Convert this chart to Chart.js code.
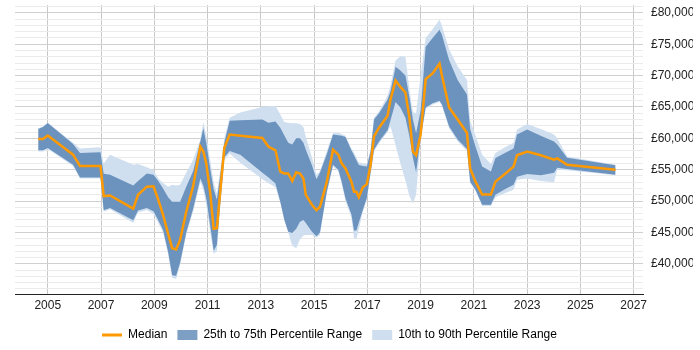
<!DOCTYPE html>
<html>
<head>
<meta charset="utf-8">
<script src="https://cdn.jsdelivr.net/npm/chart.js@4.4.1/dist/chart.umd.min.js"></script>
<style>
  html, body { margin: 0; padding: 0; background: #fff; }
  #wrap { width: 700px; height: 350px; }
</style>
</head>
<body>
<div id="wrap"><canvas id="chart" width="700" height="350"></canvas></div>
<script>
// Даты (доли года) и перцентили зарплат
const years = [
  2004.64, 2004.82, 2005.00, 2005.95, 2006.21, 2006.98, 2007.10, 2007.34, 2008.21, 2008.39,
  2008.72, 2008.97, 2009.15, 2009.33, 2009.52, 2009.67, 2009.82, 2009.97, 2010.20, 2010.46,
  2010.73, 2010.84, 2010.95, 2011.10, 2011.23, 2011.35, 2011.48, 2011.63, 2011.83, 2012.23,
  2013.06, 2013.28, 2013.55, 2013.73, 2013.88, 2014.03, 2014.18, 2014.33, 2014.47, 2014.60,
  2014.69, 2014.92, 2015.09, 2015.22, 2015.48, 2015.71, 2015.91, 2016.03, 2016.18, 2016.40,
  2016.50, 2016.59, 2016.68, 2016.83, 2016.98, 2017.12, 2017.25, 2017.44, 2017.76, 2017.87,
  2018.06, 2018.24, 2018.43, 2018.58, 2018.71, 2018.83, 2019.00, 2019.19, 2019.45, 2019.71,
  2019.80, 2020.07, 2020.39, 2020.74, 2020.86, 2021.06, 2021.31, 2021.64, 2021.81, 2022.13,
  2022.49, 2022.62, 2023.00, 2023.51, 2024.01, 2024.13, 2024.50, 2026.32
];

const median = [
  59900, 59900, 60450, 57400, 55600, 55600, 50800, 50900, 48800, 51000,
  52300, 52350, 50200, 47800, 44800, 42500, 42300, 43850, 48300, 52400,
  58700, 57900, 56050, 51300, 45600, 45700, 51700, 58500, 60600, 60400,
  60050, 58700, 58100, 54700, 54400, 54400, 53200, 54600, 54400, 53600,
  51000, 49400, 48550, 49100, 53100, 58200, 57400, 56050, 55200, 53100,
  51500, 51500, 50600, 52200, 52700, 55800, 60300, 61700, 63600, 66200,
  69200, 68200, 67300, 63300, 57900, 57300, 60600, 69450, 70350, 71900,
  70000, 64900, 63000, 60900, 55200, 53100, 51050, 51050, 53100, 54200,
  55500, 57300, 57900, 57300, 56600, 56800, 55800, 55000
];

const p75 = [
  61500, 61800, 62450, 59100, 57650, 57800, 54350, 54200, 52500, 53200,
  54400, 54200, 53200, 52000, 50600, 49900, 49900, 49900, 52300, 54800,
  59500, 61600, 59300, 55200, 51900, 50200, 54200, 59300, 62800, 62900,
  63000, 62500, 62700, 61700, 60500, 59300, 59000, 60000, 60000, 59300,
  58200, 55700, 53500, 54500, 57500, 60600, 60500, 60400, 60200, 58100,
  57300, 56500, 55750, 55600, 55500, 57900, 63000, 64000, 66200, 67500,
  71400, 70800, 70000, 66600, 63000, 60800, 64400, 74600, 76000, 77300,
  76500, 72500, 69300, 67000, 61500, 58700, 55500, 54700, 56850, 57600,
  58400, 60600, 61400, 60400, 59500, 59000, 56900, 55700
];

const p25 = [
  58100, 58100, 58450, 55800, 53750, 53750, 48550, 48900, 46950, 48500,
  48900, 48400, 46950, 45400, 41900, 38200, 38100, 40200, 45000, 48800,
  53600, 52500, 50500, 46100, 42100, 43000, 49900, 57000, 58000, 57400,
  54500, 53800, 52800, 49900, 47000, 45100, 44900, 45600, 46700, 47000,
  46500, 45100, 44400, 45000, 51500, 55800, 55000, 53200, 50400, 47900,
  45300, 45300, 46600, 48600, 50500, 54500, 58200, 59500, 61300, 62900,
  65800, 64900, 63300, 60300, 56900, 54600, 60000, 64900, 65600, 66000,
  65400, 61900, 59800, 58300, 53100, 51800, 49400, 49400, 51000, 51800,
  52600, 53900, 54300, 54100, 54500, 55300, 55100, 54200
];

const p90 = [
  61600, 61900, 62500, 59300, 58400, 58600, 56000, 57400, 55800, 55900,
  55400, 54900, 53600, 52900, 52300, 52600, 52500, 52600, 54500, 56600,
  59800, 62600, 60500, 56500, 53000, 51200, 55000, 60000, 63300, 64100,
  65000, 65100, 65200, 63800, 62600, 62500, 62400, 62400, 62300, 61800,
  60200, 57000, 54200, 54800, 58000, 60800, 60900, 60700, 60400, 58400,
  57700, 56900, 56200, 56000, 55900, 58200, 63300, 64300, 66800, 68500,
  72400, 73100, 73000, 67800, 64200, 64000, 70000, 76000, 77400, 78900,
  78000, 74200, 71500, 69300, 62800, 60500, 57400, 55900, 57650, 58500,
  59300, 61400, 62300, 61500, 60600, 60000, 57100, 55800
];

const p10 = [
  57900, 57900, 58300, 55600, 53600, 53600, 48300, 48700, 46500, 48200,
  48600, 48000, 46500, 45000, 41500, 37800, 37600, 39800, 44600, 48400,
  53000, 51800, 49500, 45000, 41600, 42000, 49200, 56500, 57600, 56100,
  53500, 52900, 52200, 49800, 47300, 45000, 42900, 42500, 43900, 44500,
  44600, 44600, 44200, 44600, 51400, 55500, 54700, 52800, 50000, 47400,
  44100, 44000, 45500, 48300, 50200, 54200, 57900, 59200, 61000, 61900,
  58900, 56000, 53300, 50800, 49600, 51000, 59800, 64700, 65400, 65800,
  65200, 61600, 59500, 58000, 52900, 51600, 49200, 49200, 50600, 51200,
  51800, 53400, 53600, 53200, 53000, 55000, 54900, 54100
];

// Подписи осей
const xTicks = [2005, 2007, 2009, 2011, 2013, 2015, 2017, 2019, 2021, 2023, 2025, 2027];
const yLabels = [40000, 45000, 50000, 55000, 60000, 65000, 70000, 75000, 80000];

const FONT = 'Arial, "Liberation Sans", sans-serif';
const ORANGE = '#ff9900';
const DARK = 'rgba(47, 100, 160, 0.62)';
const LIGHT = '#cfdff0';

function toPoints(values) {
    return values.map((v, i) => ({ x: years[i], y: v }));
}

// Легенда по центру области графика, чуть ниже
const legendShift = {
    id: 'legendShift',
    afterLayout(chart) {
        const lg = chart.legend;
        if (!lg) return;
        lg.left = chart.chartArea.left;
        lg.right = chart.chartArea.right + 1;
        lg.top += 2;
        lg.bottom += 2;
    }
};

const ctx = document.getElementById('chart').getContext('2d');
new Chart(ctx, {
    type: 'line',
    data: {
        datasets: [
            {
                label: 'Median',
                data: toPoints(median),
                borderColor: ORANGE,
                borderWidth: 2.5,
                pointRadius: 0,
                fill: false,
                tension: 0
            },
            {
                label: '25th to 75th Percentile Range',
                data: toPoints(p75),
                borderWidth: 0,
                borderColor: 'rgba(0,0,0,0)',
                backgroundColor: DARK,
                pointRadius: 0,
                fill: '+1',
                tension: 0
            },
            {
                label: 'p25',
                data: toPoints(p25),
                borderWidth: 0,
                borderColor: 'rgba(0,0,0,0)',
                pointRadius: 0,
                fill: false,
                tension: 0
            },
            {
                label: '10th to 90th Percentile Range',
                data: toPoints(p90),
                borderWidth: 0,
                borderColor: 'rgba(0,0,0,0)',
                backgroundColor: LIGHT,
                pointRadius: 0,
                fill: '+1',
                tension: 0
            },
            {
                label: 'p10',
                data: toPoints(p10),
                borderWidth: 0,
                borderColor: 'rgba(0,0,0,0)',
                pointRadius: 0,
                fill: false,
                tension: 0
            }
        ]
    },
    plugins: [legendShift],
    options: {
        responsive: false,
        animation: false,
        layout: { padding: { left: 15, right: 7, top: 5, bottom: 1 } },
        plugins: {
            tooltip: { enabled: false },
            legend: {
                position: 'bottom',
                labels: {
                    font: { family: FONT, size: 12 },
                    color: '#222',
                    usePointStyle: true,
                    pointStyleWidth: 20,
                    boxHeight: 10,
                    padding: 10,
                    generateLabels: function(chart) {
                        return [
                            { text: 'Median', pointStyle: 'line', strokeStyle: ORANGE, fillStyle: ORANGE, lineWidth: 3, datasetIndex: 0 },
                            { text: '25th to 75th Percentile Range', pointStyle: 'rect', fillStyle: DARK, strokeStyle: DARK, lineWidth: 0, datasetIndex: 1 },
                            { text: '10th to 90th Percentile Range', pointStyle: 'rect', fillStyle: LIGHT, strokeStyle: LIGHT, lineWidth: 0, datasetIndex: 3 }
                        ];
                    }
                }
            }
        },
        scales: {
            x: {
                type: 'linear',
                min: 2003.77,
                max: 2027.35,
                afterBuildTicks: function(axis) {
                    axis.ticks = xTicks.map(v => ({ value: v }));
                },
                afterFit: function(axis) {
                    axis.paddingLeft = 0;
                    axis.paddingRight = 0;
                },
                ticks: {
                    font: { family: FONT, size: 12 },
                    color: '#222',
                    padding: 4,
                    maxRotation: 0,
                    autoSkip: false,
                    callback: v => String(v)
                },
                grid: { color: '#c8c8c8', drawTicks: false },
                border: { display: true, color: '#222', width: 1 }
            },
            y: {
                position: 'right',
                min: 35100,
                max: 81250,
                // Сетка через каждую 1000, подписи через 5000
                afterBuildTicks: function(axis) {
                    const ticks = [];
                    for (let v = 36000; v <= 81000; v += 1000) {
                        ticks.push({ value: v });
                    }
                    axis.ticks = ticks;
                },
                afterFit: function(axis) {
                    axis.paddingTop = 0;
                    axis.paddingBottom = 0;
                    axis.width = 50;
                },
                ticks: {
                    autoSkip: false,
                    font: { family: FONT, size: 12 },
                    color: '#222',
                    padding: 8,
                    callback: v => yLabels.includes(v) ? '£' + v.toLocaleString('en-GB') : ''
                },
                grid: {
                    drawTicks: false,
                    color: c => (c.tick && c.tick.value % 5000 === 0) ? '#d0d0d0' : '#ebebeb'
                },
                border: { display: false }
            }
        }
    }
});
</script>
</body>
</html>
